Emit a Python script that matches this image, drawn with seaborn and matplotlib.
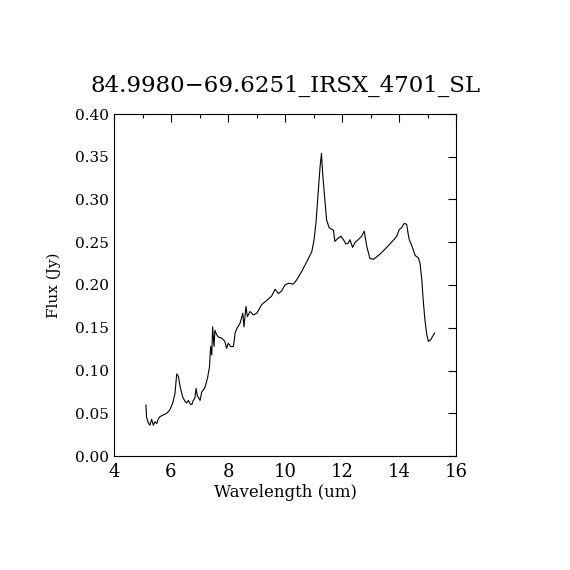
import numpy as np
import pandas as pd
import matplotlib
matplotlib.use("Agg")
import matplotlib.pyplot as plt
import seaborn as sns

wavelength = [5.12, 5.14, 5.20, 5.26, 5.32, 5.38, 5.44, 5.50, 5.55, 5.61, 5.73, 5.85, 5.96, 6.06,
              6.14, 6.20, 6.26, 6.32, 6.41, 6.49, 6.55, 6.61, 6.67, 6.73, 6.78, 6.84, 6.88, 6.92,
              7.02, 7.08, 7.19, 7.28, 7.35, 7.39, 7.43, 7.46, 7.51, 7.54, 7.60, 7.66, 7.78,
              7.89, 7.95, 8.01, 8.09, 8.19, 8.25, 8.31, 8.42, 8.52, 8.56, 8.63, 8.68, 8.77,
              8.89, 9.01, 9.18, 9.36, 9.53, 9.65, 9.77, 9.88, 10.0, 10.12, 10.29, 10.41,
              10.59, 10.76, 10.94, 11.02, 11.09, 11.17, 11.23, 11.28, 11.32, 11.38, 11.46,
              11.55, 11.70, 11.75, 11.87, 11.96, 12.05, 12.14, 12.22, 12.28, 12.37, 12.46,
              12.57, 12.69, 12.78, 12.87, 12.98, 13.10, 13.22, 13.33, 13.45, 13.57, 13.68,
              13.82, 13.92, 14.01, 14.09, 14.18, 14.27, 14.31, 14.36, 14.45, 14.56, 14.62,
              14.68, 14.74, 14.80, 14.85, 14.91, 14.97, 15.03, 15.11, 15.18, 15.25]
flux = [0.060, 0.046, 0.039, 0.036, 0.043, 0.036, 0.040, 0.038, 0.043, 0.046, 0.048, 0.050,
        0.054, 0.062, 0.073, 0.096, 0.093, 0.081, 0.069, 0.064, 0.062, 0.065, 0.061, 0.060,
        0.065, 0.068, 0.079, 0.071, 0.065, 0.075, 0.080, 0.091, 0.104, 0.128, 0.118, 0.151,
        0.128, 0.147, 0.142, 0.139, 0.138, 0.134, 0.126, 0.132, 0.128, 0.128, 0.144, 0.149,
        0.155, 0.167, 0.151, 0.175, 0.163, 0.169, 0.165, 0.167, 0.177, 0.182, 0.187, 0.195,
        0.190, 0.193, 0.200, 0.202, 0.201, 0.206, 0.216, 0.227, 0.239, 0.253, 0.274, 0.311,
        0.338, 0.354, 0.331, 0.307, 0.276, 0.267, 0.264, 0.251, 0.255, 0.257, 0.253, 0.248,
        0.249, 0.253, 0.244, 0.250, 0.253, 0.257, 0.263, 0.245, 0.231, 0.230, 0.233, 0.236,
        0.240, 0.244, 0.248, 0.253, 0.257, 0.265, 0.267, 0.272, 0.271, 0.262, 0.253, 0.246,
        0.235, 0.233, 0.232, 0.225, 0.206, 0.182, 0.159, 0.143, 0.134, 0.136, 0.140, 0.144]

title = "84.9980\u221269.6251_IRSX_4701_SL"

def main():
    df = pd.DataFrame({"wavelength": wavelength, "flux": flux})

    sns.set_style("white")
    plt.rcParams['font.family'] = ['DejaVu Serif']
    plt.rcParams['text.color'] = 'black'
    plt.rcParams['axes.labelcolor'] = 'black'
    plt.rcParams['xtick.color'] = 'black'
    plt.rcParams['ytick.color'] = 'black'

    fig = plt.figure(figsize=(5.7, 5.7), dpi=100)
    ax = fig.add_axes([0.2, 0.2, 0.6, 0.6])
    sns.lineplot(data=df, x="wavelength", y="flux", ax=ax, color="black", lw=0.8, sort=False)

    ax.set_xlim(4, 16)
    ax.set_ylim(0, 0.4)
    ax.set_xticks(np.arange(4, 17, 2))
    ax.set_xticks(np.arange(5, 16, 2), minor=True)
    ax.set_yticks(np.arange(0, 0.41, 0.05))
    ax.set_yticklabels(["%.2f" % v for v in np.arange(0, 0.41, 0.05)])
    ax.tick_params(which='both', direction='in', top=True, right=True, labelsize=11,
                   color='black', labelcolor='black')
    ax.tick_params(which='major', length=6, width=0.8)
    ax.tick_params(which='minor', length=3, width=0.8)
    ax.tick_params(axis='x', pad=5, labelsize=13)
    for s in ax.spines.values():
        s.set_color('black')
        s.set_linewidth(0.8)

    ax.set_xlabel("Wavelength (um)", fontsize=12, labelpad=2, color='black')
    ax.set_ylabel("Flux (Jy)", fontsize=11, labelpad=10, color='black')
    ax.set_title(title, fontsize=16.5, pad=16, color='black')

    fig.savefig("out.png", dpi=100)

if __name__ == "__main__":
    main()
